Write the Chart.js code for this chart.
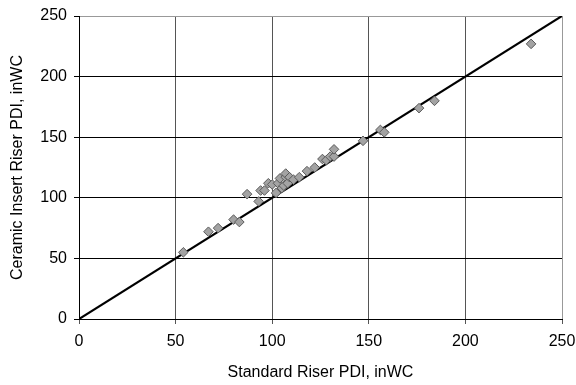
<!DOCTYPE html>
<html>
<head>
<meta charset="utf-8">
<script src="https://cdn.jsdelivr.net/npm/chart.js@4/dist/chart.umd.min.js"></script>
<style>
  html, body { margin: 0; padding: 0; background: #fff; }
  #wrap { width: 576px; height: 385px; }
</style>
</head>
<body>
<div id="wrap"><canvas id="chart" width="576" height="385"></canvas></div>
<script>
  // standard riser PDI (x) vs ceramic insert riser PDI (y), inWC
  const standardPdi = [54, 67, 72, 80, 83, 87, 93, 94, 96, 98, 100, 102, 103, 104, 105, 106, 107, 107,
    108, 109, 111, 114, 118, 122, 126, 128, 130, 132, 132, 147, 156, 158, 176, 184, 234];
  const ceramicPdi = [55, 72, 75, 82, 80, 103, 97, 106, 106, 112, 111, 104, 112, 116, 108, 110, 117, 120,
    112, 117, 115, 117, 122, 125, 132, 131, 134, 134, 140, 147, 156, 154, 174, 180, 227];
  const parityX = [0, 250];
  const parityY = [0, 250];
  const axisTicks = [0, 50, 100, 150, 200, 250];

  const font = { family: "'Liberation Sans', Arial, sans-serif", size: 16 };

  const points = standardPdi.map((x, i) => ({ x: x, y: ceramicPdi[i] }));
  const parity = parityX.map((x, i) => ({ x: x, y: parityY[i] }));

  new Chart(document.getElementById("chart").getContext("2d"), {
    type: "scatter",
    data: {
      datasets: [
        {
          data: points,
          pointStyle: "rectRot",
          pointRadius: 4.8,
          pointHoverRadius: 4.8,
          backgroundColor: "#a3a3a3",
          borderColor: "#5a5a5a",
          borderWidth: 1,
          order: 1,
        },
        {
          type: "line",
          data: parity,
          borderColor: "#000",
          borderWidth: 2.2,
          pointRadius: 0,
          fill: false,
          order: 2,
        },
      ],
    },
    options: {
      responsive: false,
      animation: false,
      layout: { padding: { left: 0, right: 14, top: 16, bottom: 0 } },
      plugins: { legend: { display: false }, tooltip: { enabled: false } },
      scales: {
        x: {
          type: "linear",
          min: 0,
          max: 250,
          afterBuildTicks: (s) => { s.ticks = axisTicks.map((v) => ({ value: v })); },
          afterFit: (s) => {
            s.height = 66;
            s.paddingLeft = 0;
            s.paddingRight = 0;
          },
          ticks: { color: "#000", font: font, padding: 8, maxRotation: 0 },
          grid: {
            color: (c) => (c.tick && c.tick.value === 250 ? "#999" : "#555"),
            tickColor: "#555",
            tickLength: 5,
            lineWidth: 1,
          },
          border: { color: "#000", width: 1 },
          title: {
            display: true,
            text: "Standard Riser PDI, inWC",
            color: "#000",
            font: font,
            padding: { top: 0, bottom: 3 },
          },
        },
        y: {
          type: "linear",
          min: 0,
          max: 250,
          afterBuildTicks: (s) => { s.ticks = axisTicks.map((v) => ({ value: v })); },
          afterFit: (s) => {
            s.width = 79;
            s.paddingTop = 0;
            s.paddingBottom = 0;
          },
          ticks: { color: "#000", font: font, padding: 7 },
          grid: {
            color: (c) => (c.tick && c.tick.value === 250 ? "#999" : "#000"),
            tickColor: "#000",
            tickLength: 5,
            lineWidth: 1,
          },
          border: { color: "#000", width: 1 },
          title: {
            display: true,
            text: "Ceramic Insert Riser PDI, inWC",
            color: "#000",
            font: font,
            padding: { top: 8, bottom: 0 },
          },
        },
      },
    },
  });
</script>
</body>
</html>
